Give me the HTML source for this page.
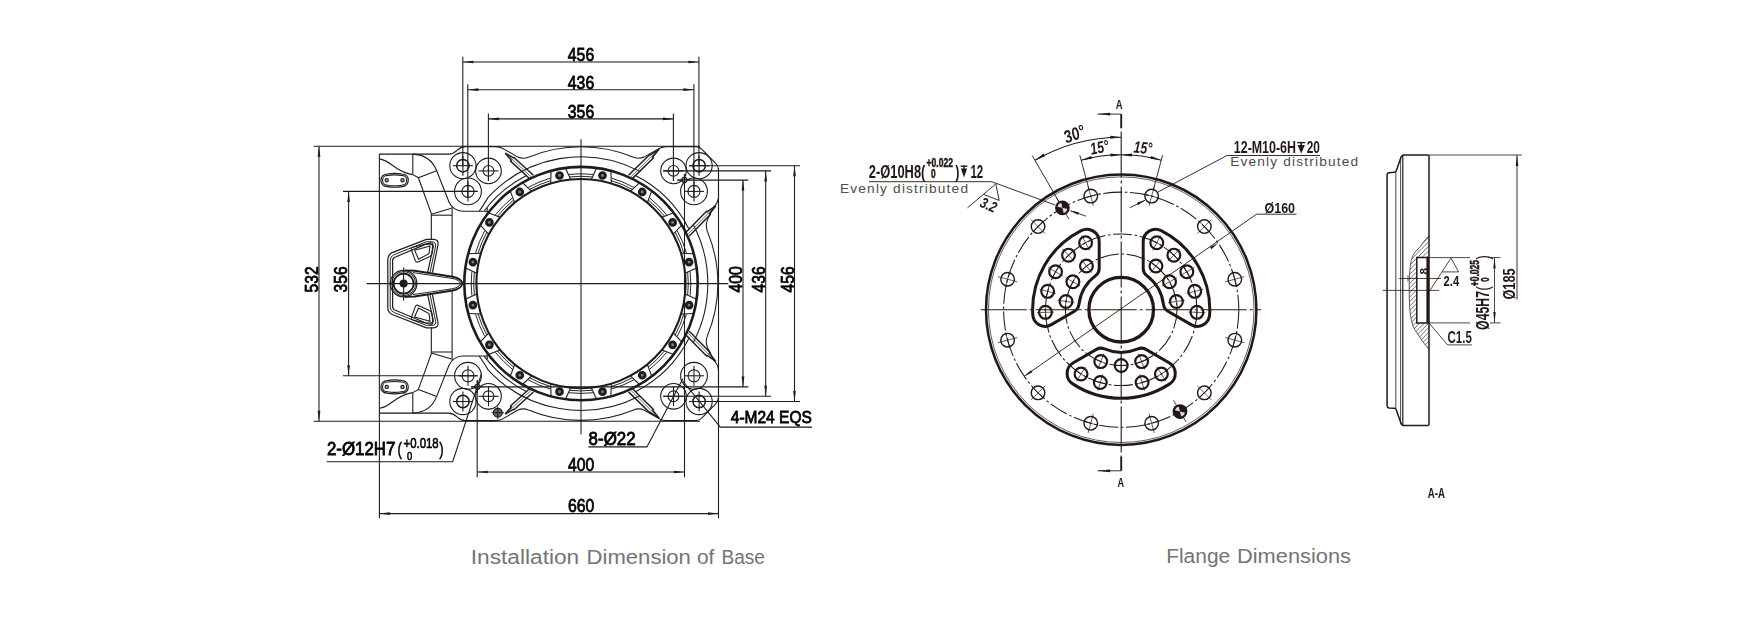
<!DOCTYPE html>
<html lang="en"><head><meta charset="utf-8"><title>Dimensions</title>
<style>
html,body{margin:0;padding:0;background:#fff;}
body{width:1756px;height:636px;overflow:hidden;position:relative;font-family:"Liberation Sans",sans-serif;}
svg{position:absolute;left:0;top:0;display:block;}
.cap{position:absolute;white-space:nowrap;color:#7a7a7a;font-size:19.4px;line-height:1;}
</style></head><body>
<svg width="1756" height="636" viewBox="0 0 1756 636">
<defs><filter id="soft" x="0" y="0" width="1756" height="636" filterUnits="userSpaceOnUse"><feGaussianBlur stdDeviation="0.42"/></filter></defs>
<g id="base" fill="none" stroke-linecap="butt" filter="url(#soft)">
<line x1="462.8" y1="56.7" x2="462.8" y2="165.7" stroke="#1c1c1c" stroke-width="1.08" />
<line x1="698.9" y1="56.7" x2="698.9" y2="165.7" stroke="#1c1c1c" stroke-width="1.08" />
<line x1="462.8" y1="62" x2="698.9" y2="62" stroke="#1c1c1c" stroke-width="1.08" />
<polygon points="462.8,62 473.3,60.65 473.3,63.35" fill="#1c1c1c"/>
<polygon points="698.9,62 688.4,63.35 688.4,60.65" fill="#1c1c1c"/>
<line x1="467.8" y1="84.2" x2="467.8" y2="197" stroke="#1c1c1c" stroke-width="1.08" />
<line x1="693.9" y1="84.2" x2="693.9" y2="197" stroke="#1c1c1c" stroke-width="1.08" />
<line x1="467.8" y1="89.7" x2="693.9" y2="89.7" stroke="#1c1c1c" stroke-width="1.08" />
<polygon points="467.8,89.7 478.3,88.35 478.3,91.05" fill="#1c1c1c"/>
<polygon points="693.9,89.7 683.4,91.05 683.4,88.35" fill="#1c1c1c"/>
<line x1="488.4" y1="113.4" x2="488.4" y2="181" stroke="#1c1c1c" stroke-width="1.08" />
<line x1="673.4" y1="113.4" x2="673.4" y2="181" stroke="#1c1c1c" stroke-width="1.08" />
<line x1="488.4" y1="118.9" x2="673.4" y2="118.9" stroke="#1c1c1c" stroke-width="1.08" />
<polygon points="488.4,118.9 498.9,117.55 498.9,120.25" fill="#1c1c1c"/>
<polygon points="673.4,118.9 662.9,120.25 662.9,117.55" fill="#1c1c1c"/>
<line x1="581" y1="139.3" x2="581" y2="434.6" stroke="#1c1c1c" stroke-width="1.08" />
<line x1="366.6" y1="283.6" x2="728.3" y2="283.6" stroke="#1c1c1c" stroke-width="1.08" />
<line x1="313.6" y1="146.3" x2="700" y2="146.3" stroke="#1c1c1c" stroke-width="1.08" />
<line x1="313.6" y1="421.3" x2="700" y2="421.3" stroke="#1c1c1c" stroke-width="1.08" />
<line x1="319" y1="146.3" x2="319" y2="421.3" stroke="#1c1c1c" stroke-width="1.08" />
<polygon points="319,146.3 320.35,156.8 317.65,156.8" fill="#1c1c1c"/>
<polygon points="319,421.3 317.65,410.8 320.35,410.8" fill="#1c1c1c"/>
<line x1="343" y1="191.4" x2="477" y2="191.4" stroke="#1c1c1c" stroke-width="1.08" />
<line x1="343" y1="375.8" x2="477" y2="375.8" stroke="#1c1c1c" stroke-width="1.08" />
<line x1="348.6" y1="191.4" x2="348.6" y2="375.8" stroke="#1c1c1c" stroke-width="1.08" />
<polygon points="348.6,191.4 349.95,201.9 347.25,201.9" fill="#1c1c1c"/>
<polygon points="348.6,375.8 347.25,365.3 349.95,365.3" fill="#1c1c1c"/>
<line x1="677" y1="180.1" x2="748.3" y2="180.1" stroke="#1c1c1c" stroke-width="1.08" />
<line x1="471" y1="386.9" x2="748.3" y2="386.9" stroke="#1c1c1c" stroke-width="1.08" />
<line x1="743" y1="180.1" x2="743" y2="386.9" stroke="#1c1c1c" stroke-width="1.08" />
<polygon points="743,180.1 744.35,190.6 741.65,190.6" fill="#1c1c1c"/>
<polygon points="743,386.9 741.65,376.4 744.35,376.4" fill="#1c1c1c"/>
<line x1="663" y1="170.9" x2="771" y2="170.9" stroke="#1c1c1c" stroke-width="1.08" />
<line x1="663" y1="396.3" x2="771" y2="396.3" stroke="#1c1c1c" stroke-width="1.08" />
<line x1="765.7" y1="170.9" x2="765.7" y2="396.3" stroke="#1c1c1c" stroke-width="1.08" />
<polygon points="765.7,170.9 767.05,181.4 764.35,181.4" fill="#1c1c1c"/>
<polygon points="765.7,396.3 764.35,385.8 767.05,385.8" fill="#1c1c1c"/>
<line x1="689" y1="165.7" x2="800" y2="165.7" stroke="#1c1c1c" stroke-width="1.08" />
<line x1="689" y1="401.5" x2="800" y2="401.5" stroke="#1c1c1c" stroke-width="1.08" />
<line x1="794.5" y1="165.7" x2="794.5" y2="401.5" stroke="#1c1c1c" stroke-width="1.08" />
<polygon points="794.5,165.7 795.85,176.2 793.15,176.2" fill="#1c1c1c"/>
<polygon points="794.5,401.5 793.15,391 795.85,391" fill="#1c1c1c"/>
<line x1="477.2" y1="380" x2="477.2" y2="477.2" stroke="#1c1c1c" stroke-width="1.08" />
<line x1="684.5" y1="174" x2="684.5" y2="477.2" stroke="#1c1c1c" stroke-width="1.08" />
<line x1="477.2" y1="472" x2="684.5" y2="472" stroke="#1c1c1c" stroke-width="1.08" />
<polygon points="477.2,472 487.7,470.65 487.7,473.35" fill="#1c1c1c"/>
<polygon points="684.5,472 674,473.35 674,470.65" fill="#1c1c1c"/>
<line x1="379.4" y1="413" x2="379.4" y2="518.3" stroke="#1c1c1c" stroke-width="1.08" />
<line x1="718.5" y1="400" x2="718.5" y2="518.3" stroke="#1c1c1c" stroke-width="1.08" />
<line x1="379.4" y1="513.6" x2="718.5" y2="513.6" stroke="#1c1c1c" stroke-width="1.08" />
<polygon points="379.4,513.6 389.9,512.25 389.9,514.95" fill="#1c1c1c"/>
<polygon points="718.5,513.6 708,514.95 708,512.25" fill="#1c1c1c"/>
<circle cx="581" cy="283.6" r="116.7" stroke="#1c1c1c" stroke-width="2.6" fill="none" />
<circle cx="581" cy="283.6" r="104.6" stroke="#1c1c1c" stroke-width="2.1" fill="none" />
<line x1="596.54" y1="167.94" x2="591.3" y2="179.51" stroke="#1c1c1c" stroke-width="1.08" />
<line x1="610.91" y1="170.8" x2="611.32" y2="183.49" stroke="#1c1c1c" stroke-width="1.08" />
<circle cx="602.5" cy="175.52" r="2.9" stroke="#1c1c1c" stroke-width="2.9" fill="#808080" />
<path d="M611.73,178.19 A109.8,109.8 0 0 1 633.81,187.34" stroke="#1c1c1c" stroke-width="0.96" fill="none" />
<path d="M611.03,180.59 A107.3,107.3 0 0 1 632.61,189.53" stroke="#1c1c1c" stroke-width="0.96" fill="none" />
<line x1="639.61" y1="182.69" x2="630.35" y2="191.37" stroke="#1c1c1c" stroke-width="1.08" />
<line x1="651.8" y1="190.83" x2="647.32" y2="202.71" stroke="#1c1c1c" stroke-width="1.08" />
<circle cx="642.22" cy="191.97" r="2.9" stroke="#1c1c1c" stroke-width="2.9" fill="#808080" />
<path d="M649.73,197.97 A109.8,109.8 0 0 1 666.63,214.87" stroke="#1c1c1c" stroke-width="0.96" fill="none" />
<path d="M648.16,199.92 A107.3,107.3 0 0 1 664.68,216.44" stroke="#1c1c1c" stroke-width="0.96" fill="none" />
<line x1="673.77" y1="212.8" x2="661.89" y2="217.28" stroke="#1c1c1c" stroke-width="1.08" />
<line x1="681.91" y1="224.99" x2="673.23" y2="234.25" stroke="#1c1c1c" stroke-width="1.08" />
<circle cx="672.63" cy="222.38" r="2.9" stroke="#1c1c1c" stroke-width="2.9" fill="#808080" />
<path d="M677.26,230.79 A109.8,109.8 0 0 1 686.41,252.87" stroke="#1c1c1c" stroke-width="0.96" fill="none" />
<path d="M675.07,231.99 A107.3,107.3 0 0 1 684.01,253.57" stroke="#1c1c1c" stroke-width="0.96" fill="none" />
<line x1="693.8" y1="253.69" x2="681.11" y2="253.28" stroke="#1c1c1c" stroke-width="1.08" />
<line x1="696.66" y1="268.06" x2="685.09" y2="273.3" stroke="#1c1c1c" stroke-width="1.08" />
<circle cx="689.08" cy="262.1" r="2.9" stroke="#1c1c1c" stroke-width="2.9" fill="#808080" />
<path d="M690.15,271.65 A109.8,109.8 0 0 1 690.15,295.55" stroke="#1c1c1c" stroke-width="0.96" fill="none" />
<path d="M687.66,271.92 A107.3,107.3 0 0 1 687.66,295.28" stroke="#1c1c1c" stroke-width="0.96" fill="none" />
<line x1="696.66" y1="299.14" x2="685.09" y2="293.9" stroke="#1c1c1c" stroke-width="1.08" />
<line x1="693.8" y1="313.51" x2="681.11" y2="313.92" stroke="#1c1c1c" stroke-width="1.08" />
<circle cx="689.08" cy="305.1" r="2.9" stroke="#1c1c1c" stroke-width="2.9" fill="#808080" />
<path d="M686.41,314.33 A109.8,109.8 0 0 1 677.26,336.41" stroke="#1c1c1c" stroke-width="0.96" fill="none" />
<path d="M684.01,313.63 A107.3,107.3 0 0 1 675.07,335.21" stroke="#1c1c1c" stroke-width="0.96" fill="none" />
<line x1="681.91" y1="342.21" x2="673.23" y2="332.95" stroke="#1c1c1c" stroke-width="1.08" />
<line x1="673.77" y1="354.4" x2="661.89" y2="349.92" stroke="#1c1c1c" stroke-width="1.08" />
<circle cx="672.63" cy="344.82" r="2.9" stroke="#1c1c1c" stroke-width="2.9" fill="#808080" />
<path d="M666.63,352.33 A109.8,109.8 0 0 1 649.73,369.23" stroke="#1c1c1c" stroke-width="0.96" fill="none" />
<path d="M664.68,350.76 A107.3,107.3 0 0 1 648.16,367.28" stroke="#1c1c1c" stroke-width="0.96" fill="none" />
<line x1="651.8" y1="376.37" x2="647.32" y2="364.49" stroke="#1c1c1c" stroke-width="1.08" />
<line x1="639.61" y1="384.51" x2="630.35" y2="375.83" stroke="#1c1c1c" stroke-width="1.08" />
<circle cx="642.22" cy="375.23" r="2.9" stroke="#1c1c1c" stroke-width="2.9" fill="#808080" />
<path d="M633.81,379.86 A109.8,109.8 0 0 1 611.73,389.01" stroke="#1c1c1c" stroke-width="0.96" fill="none" />
<path d="M632.61,377.67 A107.3,107.3 0 0 1 611.03,386.61" stroke="#1c1c1c" stroke-width="0.96" fill="none" />
<line x1="610.91" y1="396.4" x2="611.32" y2="383.71" stroke="#1c1c1c" stroke-width="1.08" />
<line x1="596.54" y1="399.26" x2="591.3" y2="387.69" stroke="#1c1c1c" stroke-width="1.08" />
<circle cx="602.5" cy="391.68" r="2.9" stroke="#1c1c1c" stroke-width="2.9" fill="#808080" />
<path d="M592.95,392.75 A109.8,109.8 0 0 1 569.05,392.75" stroke="#1c1c1c" stroke-width="0.96" fill="none" />
<path d="M592.68,390.26 A107.3,107.3 0 0 1 569.32,390.26" stroke="#1c1c1c" stroke-width="0.96" fill="none" />
<line x1="565.46" y1="399.26" x2="570.7" y2="387.69" stroke="#1c1c1c" stroke-width="1.08" />
<line x1="551.09" y1="396.4" x2="550.68" y2="383.71" stroke="#1c1c1c" stroke-width="1.08" />
<circle cx="559.5" cy="391.68" r="2.9" stroke="#1c1c1c" stroke-width="2.9" fill="#808080" />
<path d="M550.27,389.01 A109.8,109.8 0 0 1 528.19,379.86" stroke="#1c1c1c" stroke-width="0.96" fill="none" />
<path d="M550.97,386.61 A107.3,107.3 0 0 1 529.39,377.67" stroke="#1c1c1c" stroke-width="0.96" fill="none" />
<line x1="522.39" y1="384.51" x2="531.65" y2="375.83" stroke="#1c1c1c" stroke-width="1.08" />
<line x1="510.2" y1="376.37" x2="514.68" y2="364.49" stroke="#1c1c1c" stroke-width="1.08" />
<circle cx="519.78" cy="375.23" r="2.9" stroke="#1c1c1c" stroke-width="2.9" fill="#808080" />
<path d="M512.27,369.23 A109.8,109.8 0 0 1 495.37,352.33" stroke="#1c1c1c" stroke-width="0.96" fill="none" />
<path d="M513.84,367.28 A107.3,107.3 0 0 1 497.32,350.76" stroke="#1c1c1c" stroke-width="0.96" fill="none" />
<line x1="488.23" y1="354.4" x2="500.11" y2="349.92" stroke="#1c1c1c" stroke-width="1.08" />
<line x1="480.09" y1="342.21" x2="488.77" y2="332.95" stroke="#1c1c1c" stroke-width="1.08" />
<circle cx="489.37" cy="344.82" r="2.9" stroke="#1c1c1c" stroke-width="2.9" fill="#808080" />
<path d="M484.74,336.41 A109.8,109.8 0 0 1 475.59,314.33" stroke="#1c1c1c" stroke-width="0.96" fill="none" />
<path d="M486.93,335.21 A107.3,107.3 0 0 1 477.99,313.63" stroke="#1c1c1c" stroke-width="0.96" fill="none" />
<line x1="468.2" y1="313.51" x2="480.89" y2="313.92" stroke="#1c1c1c" stroke-width="1.08" />
<line x1="465.34" y1="299.14" x2="476.91" y2="293.9" stroke="#1c1c1c" stroke-width="1.08" />
<circle cx="472.92" cy="305.1" r="2.9" stroke="#1c1c1c" stroke-width="2.9" fill="#808080" />
<path d="M471.85,295.55 A109.8,109.8 0 0 1 471.85,271.65" stroke="#1c1c1c" stroke-width="0.96" fill="none" />
<path d="M474.34,295.28 A107.3,107.3 0 0 1 474.34,271.92" stroke="#1c1c1c" stroke-width="0.96" fill="none" />
<line x1="465.34" y1="268.06" x2="476.91" y2="273.3" stroke="#1c1c1c" stroke-width="1.08" />
<line x1="468.2" y1="253.69" x2="480.89" y2="253.28" stroke="#1c1c1c" stroke-width="1.08" />
<circle cx="472.92" cy="262.1" r="2.9" stroke="#1c1c1c" stroke-width="2.9" fill="#808080" />
<path d="M475.59,252.87 A109.8,109.8 0 0 1 484.74,230.79" stroke="#1c1c1c" stroke-width="0.96" fill="none" />
<path d="M477.99,253.57 A107.3,107.3 0 0 1 486.93,231.99" stroke="#1c1c1c" stroke-width="0.96" fill="none" />
<line x1="480.09" y1="224.99" x2="488.77" y2="234.25" stroke="#1c1c1c" stroke-width="1.08" />
<line x1="488.23" y1="212.8" x2="500.11" y2="217.28" stroke="#1c1c1c" stroke-width="1.08" />
<circle cx="489.37" cy="222.38" r="2.9" stroke="#1c1c1c" stroke-width="2.9" fill="#808080" />
<path d="M495.37,214.87 A109.8,109.8 0 0 1 512.27,197.97" stroke="#1c1c1c" stroke-width="0.96" fill="none" />
<path d="M497.32,216.44 A107.3,107.3 0 0 1 513.84,199.92" stroke="#1c1c1c" stroke-width="0.96" fill="none" />
<line x1="510.2" y1="190.83" x2="514.68" y2="202.71" stroke="#1c1c1c" stroke-width="1.08" />
<line x1="522.39" y1="182.69" x2="531.65" y2="191.37" stroke="#1c1c1c" stroke-width="1.08" />
<circle cx="519.78" cy="191.97" r="2.9" stroke="#1c1c1c" stroke-width="2.9" fill="#808080" />
<path d="M528.19,187.34 A109.8,109.8 0 0 1 550.27,178.19" stroke="#1c1c1c" stroke-width="0.96" fill="none" />
<path d="M529.39,189.53 A107.3,107.3 0 0 1 550.97,180.59" stroke="#1c1c1c" stroke-width="0.96" fill="none" />
<line x1="551.09" y1="170.8" x2="550.68" y2="183.49" stroke="#1c1c1c" stroke-width="1.08" />
<line x1="565.46" y1="167.94" x2="570.7" y2="179.51" stroke="#1c1c1c" stroke-width="1.08" />
<circle cx="559.5" cy="175.52" r="2.9" stroke="#1c1c1c" stroke-width="2.9" fill="#808080" />
<path d="M569.05,174.45 A109.8,109.8 0 0 1 592.95,174.45" stroke="#1c1c1c" stroke-width="0.96" fill="none" />
<path d="M569.32,176.94 A107.3,107.3 0 0 1 592.68,176.94" stroke="#1c1c1c" stroke-width="0.96" fill="none" />
<circle cx="462.9" cy="165.7" r="13.1" stroke="#1c1c1c" stroke-width="1.08" fill="none" />
<circle cx="462.9" cy="165.7" r="6.2" stroke="#1c1c1c" stroke-width="1.5" fill="none" />
<line x1="452.9" y1="165.7" x2="472.9" y2="165.7" stroke="#1c1c1c" stroke-width="1.08" />
<line x1="462.9" y1="155.7" x2="462.9" y2="175.7" stroke="#1c1c1c" stroke-width="1.08" />
<circle cx="488.5" cy="170.9" r="12.8" stroke="#1c1c1c" stroke-width="1.08" fill="none" />
<circle cx="488.5" cy="170.9" r="5.4" stroke="#1c1c1c" stroke-width="1.08" fill="none" />
<line x1="478.5" y1="170.9" x2="498.5" y2="170.9" stroke="#1c1c1c" stroke-width="1.08" />
<line x1="488.5" y1="160.9" x2="488.5" y2="180.9" stroke="#1c1c1c" stroke-width="1.08" />
<circle cx="468" cy="191.4" r="13.4" stroke="#1c1c1c" stroke-width="1.08" fill="none" />
<circle cx="468" cy="191.4" r="6" stroke="#1c1c1c" stroke-width="1.08" fill="none" />
<line x1="458" y1="191.4" x2="478" y2="191.4" stroke="#1c1c1c" stroke-width="1.08" />
<line x1="468" y1="181.4" x2="468" y2="201.4" stroke="#1c1c1c" stroke-width="1.08" />
<circle cx="462.9" cy="401.5" r="13.1" stroke="#1c1c1c" stroke-width="1.08" fill="none" />
<circle cx="462.9" cy="401.5" r="6.2" stroke="#1c1c1c" stroke-width="1.5" fill="none" />
<line x1="452.9" y1="401.5" x2="472.9" y2="401.5" stroke="#1c1c1c" stroke-width="1.08" />
<line x1="462.9" y1="391.5" x2="462.9" y2="411.5" stroke="#1c1c1c" stroke-width="1.08" />
<circle cx="488.5" cy="396.3" r="12.8" stroke="#1c1c1c" stroke-width="1.08" fill="none" />
<circle cx="488.5" cy="396.3" r="5.4" stroke="#1c1c1c" stroke-width="1.08" fill="none" />
<line x1="478.5" y1="396.3" x2="498.5" y2="396.3" stroke="#1c1c1c" stroke-width="1.08" />
<line x1="488.5" y1="386.3" x2="488.5" y2="406.3" stroke="#1c1c1c" stroke-width="1.08" />
<circle cx="468" cy="375.8" r="13.4" stroke="#1c1c1c" stroke-width="1.08" fill="none" />
<circle cx="468" cy="375.8" r="6" stroke="#1c1c1c" stroke-width="1.08" fill="none" />
<line x1="458" y1="375.8" x2="478" y2="375.8" stroke="#1c1c1c" stroke-width="1.08" />
<line x1="468" y1="365.8" x2="468" y2="385.8" stroke="#1c1c1c" stroke-width="1.08" />
<circle cx="699.1" cy="165.7" r="13.1" stroke="#1c1c1c" stroke-width="1.08" fill="none" />
<circle cx="699.1" cy="165.7" r="6.2" stroke="#1c1c1c" stroke-width="1.5" fill="none" />
<line x1="689.1" y1="165.7" x2="709.1" y2="165.7" stroke="#1c1c1c" stroke-width="1.08" />
<line x1="699.1" y1="155.7" x2="699.1" y2="175.7" stroke="#1c1c1c" stroke-width="1.08" />
<circle cx="673.5" cy="170.9" r="12.8" stroke="#1c1c1c" stroke-width="1.08" fill="none" />
<circle cx="673.5" cy="170.9" r="5.4" stroke="#1c1c1c" stroke-width="1.08" fill="none" />
<line x1="663.5" y1="170.9" x2="683.5" y2="170.9" stroke="#1c1c1c" stroke-width="1.08" />
<line x1="673.5" y1="160.9" x2="673.5" y2="180.9" stroke="#1c1c1c" stroke-width="1.08" />
<circle cx="694" cy="191.4" r="13.4" stroke="#1c1c1c" stroke-width="1.08" fill="none" />
<circle cx="694" cy="191.4" r="6" stroke="#1c1c1c" stroke-width="1.08" fill="none" />
<line x1="684" y1="191.4" x2="704" y2="191.4" stroke="#1c1c1c" stroke-width="1.08" />
<line x1="694" y1="181.4" x2="694" y2="201.4" stroke="#1c1c1c" stroke-width="1.08" />
<circle cx="699.1" cy="401.5" r="13.1" stroke="#1c1c1c" stroke-width="1.08" fill="none" />
<circle cx="699.1" cy="401.5" r="6.2" stroke="#1c1c1c" stroke-width="1.5" fill="none" />
<line x1="689.1" y1="401.5" x2="709.1" y2="401.5" stroke="#1c1c1c" stroke-width="1.08" />
<line x1="699.1" y1="391.5" x2="699.1" y2="411.5" stroke="#1c1c1c" stroke-width="1.08" />
<circle cx="673.5" cy="396.3" r="12.8" stroke="#1c1c1c" stroke-width="1.08" fill="none" />
<circle cx="673.5" cy="396.3" r="5.4" stroke="#1c1c1c" stroke-width="1.08" fill="none" />
<line x1="663.5" y1="396.3" x2="683.5" y2="396.3" stroke="#1c1c1c" stroke-width="1.08" />
<line x1="673.5" y1="386.3" x2="673.5" y2="406.3" stroke="#1c1c1c" stroke-width="1.08" />
<circle cx="694" cy="375.8" r="13.4" stroke="#1c1c1c" stroke-width="1.08" fill="none" />
<circle cx="694" cy="375.8" r="6" stroke="#1c1c1c" stroke-width="1.08" fill="none" />
<line x1="684" y1="375.8" x2="704" y2="375.8" stroke="#1c1c1c" stroke-width="1.08" />
<line x1="694" y1="365.8" x2="694" y2="385.8" stroke="#1c1c1c" stroke-width="1.08" />
<circle cx="684.4" cy="180" r="2.6" stroke="#1c1c1c" stroke-width="1.08" fill="#999" />
<line x1="678.4" y1="180" x2="690.4" y2="180" stroke="#1c1c1c" stroke-width="1.08" />
<line x1="684.4" y1="174" x2="684.4" y2="186" stroke="#1c1c1c" stroke-width="1.08" />
<circle cx="477.4" cy="386.8" r="2.6" stroke="#1c1c1c" stroke-width="1.08" fill="#999" />
<line x1="471.4" y1="386.8" x2="483.4" y2="386.8" stroke="#1c1c1c" stroke-width="1.08" />
<line x1="477.4" y1="380.8" x2="477.4" y2="392.8" stroke="#1c1c1c" stroke-width="1.08" />
<circle cx="497.8" cy="412.7" r="4.4" stroke="#1c1c1c" stroke-width="1.2" fill="#666" />
<line x1="491.5" y1="412.7" x2="504" y2="412.7" stroke="#1c1c1c" stroke-width="0.96" />
<line x1="497.8" y1="406.5" x2="497.8" y2="419" stroke="#1c1c1c" stroke-width="0.96" />
<path d="M528.5,157.3 A136.8,136.8 0 0 1 633.5,157.3" stroke="#1c1c1c" stroke-width="1.08" fill="none" />
<path d="M528.5,409.9 A136.8,136.8 0 0 0 633.5,409.9" stroke="#1c1c1c" stroke-width="1.08" fill="none" />
<path d="M707.3,231.1 A135.8,135.8 0 0 1 707.3,336.1" stroke="#1c1c1c" stroke-width="1.08" fill="none" />
<path d="M488.26,197.12 A126.8,126.8 0 0 1 639.55,171.13" stroke="#1c1c1c" stroke-width="1.08" fill="none" />
<path d="M693.47,225.05 A126.8,126.8 0 0 1 693.47,342.15" stroke="#1c1c1c" stroke-width="1.08" fill="none" />
<path d="M639.55,396.07 A126.8,126.8 0 0 1 488.26,370.08" stroke="#1c1c1c" stroke-width="1.08" fill="none" />
<path d="M635.93,175.79 A121.0,121.0 0 0 1 688.81,228.67" stroke="#1c1c1c" stroke-width="1.08" fill="none" />
<path d="M688.81,338.53 A121.0,121.0 0 0 1 635.93,391.41" stroke="#1c1c1c" stroke-width="1.08" fill="none" />
<path d="M484.37,210.78 A121.0,121.0 0 0 1 526.07,175.79" stroke="#1c1c1c" stroke-width="1.08" fill="none" />
<path d="M526.07,391.41 A121.0,121.0 0 0 1 484.37,356.42" stroke="#1c1c1c" stroke-width="1.08" fill="none" />
<path d="M488.3,197.1 Q483.2,205.5 479.2,211.2" stroke="#1c1c1c" stroke-width="1.08" fill="none" />
<line x1="487.2" y1="208" x2="487.2" y2="213.4" stroke="#1c1c1c" stroke-width="1.08" />
<path d="M488.3,370.1 Q483.2,361.7 479.2,356" stroke="#1c1c1c" stroke-width="1.08" fill="none" />
<line x1="487.2" y1="359.2" x2="487.2" y2="353.8" stroke="#1c1c1c" stroke-width="1.08" />
<path d="M633.5,157.3 C637,158.6 640,159 644,157.1 L658,149.1 Q661.5,146.7 666,146.6 L696,146.6 Q699.5,146.6 702,149.3 L715.7,163.3 Q718.5,166.1 718.5,170.1 L718.5,198.6" stroke="#1c1c1c" stroke-width="1.08" fill="none" />
<path d="M718.5,197.6 Q717.5,203.6 714,206.6 L707.5,219.6 C705.6,224.6 706,227.6 707.3,231.1" stroke="#1c1c1c" stroke-width="1.08" fill="none" />
<path d="M528.5,157.3 C525,158.6 522,159 518,157.1 L504,149.1 Q500.5,146.7 496,146.6 L465,146.6 C457,146.6 457,154.1 449,154.1 L379.4,154.1" stroke="#1c1c1c" stroke-width="1.08" fill="none" />
<path d="M633.5,409.9 C637,408.6 640,408.2 644,410.1 L658,418.1 Q661.5,420.5 666,420.6 L696,420.6 Q699.5,420.6 702,417.9 L715.7,403.9 Q718.5,401.1 718.5,397.1 L718.5,368.6" stroke="#1c1c1c" stroke-width="1.08" fill="none" />
<path d="M718.5,369.6 Q717.5,363.6 714,360.6 L707.5,347.6 C705.6,342.6 706,339.6 707.3,336.1" stroke="#1c1c1c" stroke-width="1.08" fill="none" />
<path d="M528.5,409.9 C525,408.6 522,408.2 518,410.1 L504,418.1 Q500.5,420.5 496,420.6 L465,420.6 C457,420.6 457,413.1 449,413.1 L379.4,413.1" stroke="#1c1c1c" stroke-width="1.08" fill="none" />
<line x1="718.5" y1="168" x2="718.5" y2="400" stroke="#1c1c1c" stroke-width="1.08" />
<path d="M530.01,388.26 L510.55,406.09 L511.31,406.92 L505.23,414.02 L513.5,409.32 L513.93,409.78 L533.39,391.94" stroke="#1c1c1c" stroke-width="1.45" fill="none" />
<path d="M531.53,389.92 L507.5,412.27" stroke="#444" stroke-width="0.8" fill="none" />
<path d="M530.01,178.94 L510.55,161.11 L511.31,160.28 L505.23,153.18 L513.5,157.88 L513.93,157.42 L533.39,175.26" stroke="#1c1c1c" stroke-width="1.45" fill="none" />
<path d="M531.53,177.28 L507.5,154.93" stroke="#444" stroke-width="0.8" fill="none" />
<path d="M632.05,388.32 L653.29,409.18 L652.5,409.99 L659.18,418.12 L650.22,412.31 L649.79,412.75 L628.55,391.88" stroke="#1c1c1c" stroke-width="1.45" fill="none" />
<path d="M630.48,389.92 L656.7,416.04" stroke="#444" stroke-width="0.8" fill="none" />
<path d="M689.28,331.15 L710.15,352.39 L709.35,353.17 L715.88,361.42 L707.03,355.45 L706.58,355.89 L685.72,334.65" stroke="#1c1c1c" stroke-width="1.45" fill="none" />
<path d="M687.68,332.72 L713.44,359.3" stroke="#444" stroke-width="0.8" fill="none" />
<path d="M632.05,178.88 L653.29,158.02 L652.5,157.21 L659.18,149.08 L650.22,154.89 L649.79,154.45 L628.55,175.32" stroke="#1c1c1c" stroke-width="1.45" fill="none" />
<path d="M630.48,177.28 L656.7,151.16" stroke="#444" stroke-width="0.8" fill="none" />
<path d="M689.28,236.05 L710.15,214.81 L709.35,214.03 L715.88,205.78 L707.03,211.75 L706.58,211.31 L685.72,232.55" stroke="#1c1c1c" stroke-width="1.45" fill="none" />
<path d="M687.68,234.48 L713.44,207.9" stroke="#444" stroke-width="0.8" fill="none" />
<line x1="379.4" y1="154.1" x2="379.4" y2="283.6" stroke="#1c1c1c" stroke-width="1.08" />
<path d="M379.4,158.9 C387,160 392,165.5 397,168.5 S408,174 412.8,174.6" stroke="#1c1c1c" stroke-width="1.08" fill="none" />
<line x1="412.8" y1="154.1" x2="412.8" y2="174.6" stroke="#1c1c1c" stroke-width="1.08" />
<path d="M412.8,154.1 C425,154.6 432.5,160 436.7,170.8 L448.9,201.7 A15,15 0 0 0 462.9,211.2 L487.2,211.2" stroke="#1c1c1c" stroke-width="1.08" fill="none" />
<line x1="452.1" y1="206.8" x2="452.1" y2="276" stroke="#1c1c1c" stroke-width="1.08" />
<path d="M412.8,174.6 L418.4,177.7 L431.3,213.5 L431.3,239.8" stroke="#1c1c1c" stroke-width="1.08" fill="none" />
<line x1="418.4" y1="177.7" x2="436.7" y2="170.8" stroke="#1c1c1c" stroke-width="1.08" />
<line x1="431.3" y1="214.2" x2="451.5" y2="208.3" stroke="#1c1c1c" stroke-width="1.08" />
<line x1="431.3" y1="215.2" x2="452.1" y2="215.2" stroke="#1c1c1c" stroke-width="1.08" />
<path d="M387.3,174 Q394.6,172.7 401.9,174 C410.41,174 410.41,186.6 401.9,186.6 Q394.6,187.9 387.3,186.6 C378.8,186.6 378.8,174 387.3,174 Z" stroke="#1c1c1c" stroke-width="1.2" fill="none" />
<path d="M387.5,175.4 Q394.6,174.3 401.7,175.4 C408.31,175.4 408.31,185.2 401.7,185.2 Q394.6,186.3 387.5,185.2 C380.89,185.2 380.89,175.4 387.5,175.4 Z" stroke="#1c1c1c" stroke-width="1.08" fill="none" />
<circle cx="386.7" cy="180.3" r="1.6" stroke="#1c1c1c" stroke-width="1.2" fill="#bbb" />
<circle cx="402.5" cy="180.3" r="1.6" stroke="#1c1c1c" stroke-width="1.2" fill="#bbb" />
<path d="M387.8,283.6 L387.8,260 Q387.8,254.4 392.8,252.4 L426.4,239.4 L433.6,239.4 Q438.6,239.4 438,244.8 L432.4,272.6" stroke="#1c1c1c" stroke-width="1.2" fill="none" />
<path d="M390.2,283.6 L390.2,260.36 Q390.2,256.08 394.12,254.68 L426.16,241.8 L431.8,241.8 Q436.2,241.8 435.6,246 L430,272.6" stroke="#1c1c1c" stroke-width="0.96" fill="none" />
<path d="M392.6,283.6 L392.6,260.72 Q392.6,257.76 395.44,256.96 L425.92,244.2 L430,244.2 Q433.8,244.2 433.2,247.2 L427.6,272.6" stroke="#1c1c1c" stroke-width="1.2" fill="none" />
<path d="M413,247.2 L430.6,242.9 Q433,242.3 432.8,244.8 L431.9,253.8 Q431.7,255.7 429.9,256.5 L418.4,261.8 Q416.2,262.8 415.3,260.6 L411.4,249.7 Q410.6,247.8 413,247.2 Z" stroke="#1c1c1c" stroke-width="1.1" fill="none" />
<path d="M414.6,250.2 L430,246 L429,253.7 L418.5,259.2 Z" stroke="#1c1c1c" stroke-width="1.08" fill="none" />
<path d="M405,270.4 L414.6,270.7 L452.7,276.7 Q461.6,278.6 462.4,283.6" stroke="#1c1c1c" stroke-width="1.9" fill="none" />
<path d="M413,272.6 L452,278.4 Q459.8,279.9 460.5,283.6" stroke="#1c1c1c" stroke-width="0.96" fill="none" />
<line x1="379.4" y1="413.1" x2="379.4" y2="283.6" stroke="#1c1c1c" stroke-width="1.08" />
<path d="M379.4,408.3 C387,407.2 392,401.7 397,398.7 S408,393.2 412.8,392.6" stroke="#1c1c1c" stroke-width="1.08" fill="none" />
<line x1="412.8" y1="413.1" x2="412.8" y2="392.6" stroke="#1c1c1c" stroke-width="1.08" />
<path d="M412.8,413.1 C425,412.6 432.5,407.2 436.7,396.4 L448.9,365.5 A15,15 0 0 1 462.9,356 L487.2,356" stroke="#1c1c1c" stroke-width="1.08" fill="none" />
<line x1="452.1" y1="360.4" x2="452.1" y2="291.2" stroke="#1c1c1c" stroke-width="1.08" />
<path d="M412.8,392.6 L418.4,389.5 L431.3,353.7 L431.3,327.4" stroke="#1c1c1c" stroke-width="1.08" fill="none" />
<line x1="418.4" y1="389.5" x2="436.7" y2="396.4" stroke="#1c1c1c" stroke-width="1.08" />
<line x1="431.3" y1="353" x2="451.5" y2="358.9" stroke="#1c1c1c" stroke-width="1.08" />
<line x1="431.3" y1="352" x2="452.1" y2="352" stroke="#1c1c1c" stroke-width="1.08" />
<path d="M387.3,393.2 Q394.6,394.5 401.9,393.2 C410.41,393.2 410.41,380.6 401.9,380.6 Q394.6,379.3 387.3,380.6 C378.8,380.6 378.8,393.2 387.3,393.2 Z" stroke="#1c1c1c" stroke-width="1.2" fill="none" />
<path d="M387.5,391.8 Q394.6,392.9 401.7,391.8 C408.31,391.8 408.31,382 401.7,382 Q394.6,380.9 387.5,382 C380.89,382 380.89,391.8 387.5,391.8 Z" stroke="#1c1c1c" stroke-width="1.08" fill="none" />
<circle cx="386.7" cy="386.9" r="1.6" stroke="#1c1c1c" stroke-width="1.2" fill="#bbb" />
<circle cx="402.5" cy="386.9" r="1.6" stroke="#1c1c1c" stroke-width="1.2" fill="#bbb" />
<path d="M387.8,283.6 L387.8,307.2 Q387.8,312.8 392.8,314.8 L426.4,327.8 L433.6,327.8 Q438.6,327.8 438,322.4 L432.4,294.6" stroke="#1c1c1c" stroke-width="1.2" fill="none" />
<path d="M390.2,283.6 L390.2,306.84 Q390.2,311.12 394.12,312.52 L426.16,325.4 L431.8,325.4 Q436.2,325.4 435.6,321.2 L430,294.6" stroke="#1c1c1c" stroke-width="0.96" fill="none" />
<path d="M392.6,283.6 L392.6,306.48 Q392.6,309.44 395.44,310.24 L425.92,323 L430,323 Q433.8,323 433.2,320 L427.6,294.6" stroke="#1c1c1c" stroke-width="1.2" fill="none" />
<path d="M413,320 L430.6,324.3 Q433,324.9 432.8,322.4 L431.9,313.4 Q431.7,311.5 429.9,310.7 L418.4,305.4 Q416.2,304.4 415.3,306.6 L411.4,317.5 Q410.6,319.4 413,320 Z" stroke="#1c1c1c" stroke-width="1.1" fill="none" />
<path d="M414.6,317 L430,321.2 L429,313.5 L418.5,308 Z" stroke="#1c1c1c" stroke-width="1.08" fill="none" />
<path d="M405,296.8 L414.6,296.5 L452.7,290.5 Q461.6,288.6 462.4,283.6" stroke="#1c1c1c" stroke-width="1.9" fill="none" />
<path d="M413,294.6 L452,288.8 Q459.8,287.3 460.5,283.6" stroke="#1c1c1c" stroke-width="0.96" fill="none" />
<circle cx="403.6" cy="283.6" r="13.3" stroke="#1c1c1c" stroke-width="1.2" fill="none" />
<circle cx="403.6" cy="283.6" r="12" stroke="#1c1c1c" stroke-width="0.96" fill="none" />
<circle cx="403.6" cy="283.6" r="10" stroke="#1c1c1c" stroke-width="1.7" fill="none" />
<circle cx="403.6" cy="283.6" r="4" stroke="#1c1c1c" stroke-width="0" fill="#1c1c1c" />
<line x1="403.6" y1="267.5" x2="403.6" y2="300.4" stroke="#1c1c1c" stroke-width="1.08" />
<path d="M326.7,461.7 H452.7 L481.4,374" stroke="#1c1c1c" stroke-width="1.08" fill="none" />
<path d="M588.4,446.9 H646.9 L682.8,378.8" stroke="#1c1c1c" stroke-width="1.08" fill="none" />
<path d="M812,427.1 H720.3 L682.8,381" stroke="#1c1c1c" stroke-width="1.08" fill="none" />
<text x="567.85" y="61.2" font-size="19.2" fill="#000" font-weight="normal" text-anchor="start" font-family="'Liberation Sans', sans-serif" textLength="26.3" lengthAdjust="spacingAndGlyphs" stroke="#000" stroke-width="0.8">456</text>
<text x="567.85" y="88.6" font-size="19.2" fill="#000" font-weight="normal" text-anchor="start" font-family="'Liberation Sans', sans-serif" textLength="26.3" lengthAdjust="spacingAndGlyphs" stroke="#000" stroke-width="0.8">436</text>
<text x="567.85" y="117.8" font-size="19.2" fill="#000" font-weight="normal" text-anchor="start" font-family="'Liberation Sans', sans-serif" textLength="26.3" lengthAdjust="spacingAndGlyphs" stroke="#000" stroke-width="0.8">356</text>
<text x="568.05" y="471" font-size="19.2" fill="#000" font-weight="normal" text-anchor="start" font-family="'Liberation Sans', sans-serif" textLength="26.3" lengthAdjust="spacingAndGlyphs" stroke="#000" stroke-width="0.8">400</text>
<text x="568.05" y="512.4" font-size="19.2" fill="#000" font-weight="normal" text-anchor="start" font-family="'Liberation Sans', sans-serif" textLength="26.3" lengthAdjust="spacingAndGlyphs" stroke="#000" stroke-width="0.8">660</text>
<text x="317.8" y="292.4" font-size="19.2" fill="#000" font-weight="normal" text-anchor="start" font-family="'Liberation Sans', sans-serif" textLength="26.2" lengthAdjust="spacingAndGlyphs" transform="rotate(-90 317.8 292.4)" stroke="#000" stroke-width="0.8">532</text>
<text x="347.4" y="292.4" font-size="19.2" fill="#000" font-weight="normal" text-anchor="start" font-family="'Liberation Sans', sans-serif" textLength="26.2" lengthAdjust="spacingAndGlyphs" transform="rotate(-90 347.4 292.4)" stroke="#000" stroke-width="0.8">356</text>
<text x="742.2" y="292.5" font-size="19.2" fill="#000" font-weight="normal" text-anchor="start" font-family="'Liberation Sans', sans-serif" textLength="26.2" lengthAdjust="spacingAndGlyphs" transform="rotate(-90 742.2 292.5)" stroke="#000" stroke-width="0.8">400</text>
<text x="764.6" y="292.5" font-size="19.2" fill="#000" font-weight="normal" text-anchor="start" font-family="'Liberation Sans', sans-serif" textLength="26.2" lengthAdjust="spacingAndGlyphs" transform="rotate(-90 764.6 292.5)" stroke="#000" stroke-width="0.8">436</text>
<text x="794" y="292.5" font-size="19.2" fill="#000" font-weight="normal" text-anchor="start" font-family="'Liberation Sans', sans-serif" textLength="26.2" lengthAdjust="spacingAndGlyphs" transform="rotate(-90 794 292.5)" stroke="#000" stroke-width="0.8">456</text>
<text x="588.6" y="444.6" font-size="17.8" fill="#000" font-weight="normal" text-anchor="start" font-family="'Liberation Sans', sans-serif" textLength="47" lengthAdjust="spacingAndGlyphs" stroke="#000" stroke-width="0.8">8-Ø22</text>
<text x="730.8" y="422.6" font-size="17.4" fill="#000" font-weight="normal" text-anchor="start" font-family="'Liberation Sans', sans-serif" textLength="81" lengthAdjust="spacingAndGlyphs" stroke="#000" stroke-width="0.8">4-M24 EQS</text>
<text x="327" y="455.1" font-size="18.2" fill="#000" font-weight="normal" text-anchor="start" font-family="'Liberation Sans', sans-serif" textLength="68.4" lengthAdjust="spacingAndGlyphs" stroke="#000" stroke-width="0.8">2-Ø12H7</text>
<text x="397.6" y="455.1" font-size="18.6" fill="#000" font-weight="normal" text-anchor="start" font-family="'Liberation Sans', sans-serif" textLength="4.4" lengthAdjust="spacingAndGlyphs" stroke="#000" stroke-width="0.5">(</text>
<text x="403.5" y="448.4" font-size="14.2" fill="#000" font-weight="normal" text-anchor="start" font-family="'Liberation Sans', sans-serif" textLength="35.2" lengthAdjust="spacingAndGlyphs" stroke="#000" stroke-width="0.6">+0.018</text>
<text x="406.9" y="459.8" font-size="11.8" fill="#000" font-weight="normal" text-anchor="start" font-family="'Liberation Sans', sans-serif" textLength="5.2" lengthAdjust="spacingAndGlyphs" stroke="#000" stroke-width="0.6">0</text>
<text x="439.3" y="455.1" font-size="18.6" fill="#000" font-weight="normal" text-anchor="start" font-family="'Liberation Sans', sans-serif" textLength="4.4" lengthAdjust="spacingAndGlyphs" stroke="#000" stroke-width="0.5">)</text>
</g>
<g id="flange" fill="none" filter="url(#soft)">
<circle cx="1121.2" cy="309.7" r="135.2" stroke="#231815" stroke-width="2.5" fill="none" />
<circle cx="1121.2" cy="309.7" r="132.8" stroke="#231815" stroke-width="0.7" fill="none" />
<circle cx="1121.2" cy="309.7" r="32.3" stroke="#231815" stroke-width="3.3" fill="none" />
<circle cx="1121.2" cy="309.7" r="117.6" stroke="#231815" stroke-width="1.05" fill="none" stroke-dasharray="19 2.6 2.6 2.6"/>
<circle cx="1121.2" cy="309.7" r="75.8" stroke="#231815" stroke-width="1.05" fill="none" stroke-dasharray="19 2.6 2.6 2.6"/>
<circle cx="1121.2" cy="309.7" r="55.8" stroke="#231815" stroke-width="1.05" fill="none" stroke-dasharray="19 2.6 2.6 2.6"/>
<line x1="1121.2" y1="131.4" x2="1121.2" y2="456.5" stroke="#231815" stroke-width="1.1" stroke-dasharray="46 3 3 3"/>
<line x1="980.7" y1="309.7" x2="1261" y2="309.7" stroke="#231815" stroke-width="1.1" stroke-dasharray="46 3 3 3"/>
<path d="M1081.2,230.64 A88.6,88.6 0 0 0 1032.74,314.59 A12.4,12.4 0 0 0 1051.32,324.64 L1074.48,311.27 A9.0,9.0 0 0 0 1078.91,304.56 A42.6,42.6 0 0 1 1095.61,275.64 A9.0,9.0 0 0 0 1099.2,268.45 L1099.2,241.71 A12.4,12.4 0 0 0 1081.2,230.64 Z" stroke="#231815" stroke-width="3.0" fill="none" />
<path d="M1209.66,314.59 A88.6,88.6 0 0 0 1161.2,230.64 A12.4,12.4 0 0 0 1143.2,241.71 L1143.2,268.45 A9.0,9.0 0 0 0 1146.79,275.64 A42.6,42.6 0 0 1 1163.49,304.56 A9.0,9.0 0 0 0 1167.92,311.27 L1191.08,324.64 A12.4,12.4 0 0 0 1209.66,314.59 Z" stroke="#231815" stroke-width="3.0" fill="none" />
<path d="M1072.73,383.87 A88.6,88.6 0 0 0 1169.67,383.87 A12.4,12.4 0 0 0 1169.08,362.75 L1145.92,349.38 A9.0,9.0 0 0 0 1137.9,348.89 A42.6,42.6 0 0 1 1104.5,348.89 A9.0,9.0 0 0 0 1096.48,349.38 L1073.32,362.75 A12.4,12.4 0 0 0 1072.73,383.87 Z" stroke="#231815" stroke-width="3.0" fill="none" />
<circle cx="1045.45" cy="312.35" r="6.4" stroke="#231815" stroke-width="2.2" fill="none" />
<line x1="1053.94" y1="312.05" x2="1036.95" y2="312.64" stroke="#231815" stroke-width="0.7" />
<line x1="1045.68" y1="319.14" x2="1045.21" y2="305.55" stroke="#231815" stroke-width="0.7" />
<circle cx="1047.65" cy="291.36" r="6.4" stroke="#231815" stroke-width="2.2" fill="none" />
<line x1="1055.9" y1="293.42" x2="1039.4" y2="289.31" stroke="#231815" stroke-width="0.7" />
<line x1="1046.01" y1="297.96" x2="1049.3" y2="284.76" stroke="#231815" stroke-width="0.7" />
<circle cx="1055.56" cy="271.8" r="6.4" stroke="#231815" stroke-width="2.2" fill="none" />
<line x1="1062.92" y1="276.05" x2="1048.19" y2="267.55" stroke="#231815" stroke-width="0.7" />
<line x1="1052.16" y1="277.69" x2="1058.96" y2="265.91" stroke="#231815" stroke-width="0.7" />
<circle cx="1068.54" cy="255.17" r="6.4" stroke="#231815" stroke-width="2.2" fill="none" />
<line x1="1074.45" y1="261.29" x2="1062.64" y2="249.06" stroke="#231815" stroke-width="0.7" />
<line x1="1063.65" y1="259.9" x2="1073.44" y2="250.45" stroke="#231815" stroke-width="0.7" />
<circle cx="1085.61" cy="242.77" r="6.4" stroke="#231815" stroke-width="2.2" fill="none" />
<line x1="1089.6" y1="250.28" x2="1081.62" y2="235.27" stroke="#231815" stroke-width="0.7" />
<line x1="1079.61" y1="245.96" x2="1091.62" y2="239.58" stroke="#231815" stroke-width="0.7" />
<circle cx="1066.01" cy="301.45" r="6.4" stroke="#231815" stroke-width="2.2" fill="none" />
<line x1="1074.42" y1="302.71" x2="1057.61" y2="300.2" stroke="#231815" stroke-width="0.7" />
<line x1="1065.01" y1="308.18" x2="1067.02" y2="294.73" stroke="#231815" stroke-width="0.7" />
<circle cx="1072.88" cy="281.8" r="6.4" stroke="#231815" stroke-width="2.2" fill="none" />
<line x1="1080.24" y1="286.05" x2="1065.51" y2="277.55" stroke="#231815" stroke-width="0.7" />
<line x1="1069.48" y1="287.69" x2="1076.28" y2="275.91" stroke="#231815" stroke-width="0.7" />
<circle cx="1086.46" cy="266.03" r="6.4" stroke="#231815" stroke-width="2.2" fill="none" />
<line x1="1091.76" y1="272.68" x2="1081.17" y2="259.38" stroke="#231815" stroke-width="0.7" />
<line x1="1081.14" y1="270.26" x2="1091.79" y2="261.8" stroke="#231815" stroke-width="0.7" />
<circle cx="1156.79" cy="242.77" r="6.4" stroke="#231815" stroke-width="2.2" fill="none" />
<line x1="1152.8" y1="250.28" x2="1160.78" y2="235.27" stroke="#231815" stroke-width="0.7" />
<line x1="1150.78" y1="239.58" x2="1162.79" y2="245.96" stroke="#231815" stroke-width="0.7" />
<circle cx="1173.86" cy="255.17" r="6.4" stroke="#231815" stroke-width="2.2" fill="none" />
<line x1="1167.95" y1="261.29" x2="1179.76" y2="249.06" stroke="#231815" stroke-width="0.7" />
<line x1="1168.96" y1="250.45" x2="1178.75" y2="259.9" stroke="#231815" stroke-width="0.7" />
<circle cx="1186.84" cy="271.8" r="6.4" stroke="#231815" stroke-width="2.2" fill="none" />
<line x1="1179.48" y1="276.05" x2="1194.21" y2="267.55" stroke="#231815" stroke-width="0.7" />
<line x1="1183.44" y1="265.91" x2="1190.24" y2="277.69" stroke="#231815" stroke-width="0.7" />
<circle cx="1194.75" cy="291.36" r="6.4" stroke="#231815" stroke-width="2.2" fill="none" />
<line x1="1186.5" y1="293.42" x2="1203" y2="289.31" stroke="#231815" stroke-width="0.7" />
<line x1="1193.1" y1="284.76" x2="1196.39" y2="297.96" stroke="#231815" stroke-width="0.7" />
<circle cx="1196.95" cy="312.35" r="6.4" stroke="#231815" stroke-width="2.2" fill="none" />
<line x1="1188.46" y1="312.05" x2="1205.45" y2="312.64" stroke="#231815" stroke-width="0.7" />
<line x1="1197.19" y1="305.55" x2="1196.72" y2="319.14" stroke="#231815" stroke-width="0.7" />
<circle cx="1155.94" cy="266.03" r="6.4" stroke="#231815" stroke-width="2.2" fill="none" />
<line x1="1150.64" y1="272.68" x2="1161.23" y2="259.38" stroke="#231815" stroke-width="0.7" />
<line x1="1150.61" y1="261.8" x2="1161.26" y2="270.26" stroke="#231815" stroke-width="0.7" />
<circle cx="1169.52" cy="281.8" r="6.4" stroke="#231815" stroke-width="2.2" fill="none" />
<line x1="1162.16" y1="286.05" x2="1176.89" y2="277.55" stroke="#231815" stroke-width="0.7" />
<line x1="1166.12" y1="275.91" x2="1172.92" y2="287.69" stroke="#231815" stroke-width="0.7" />
<circle cx="1176.39" cy="301.45" r="6.4" stroke="#231815" stroke-width="2.2" fill="none" />
<line x1="1167.98" y1="302.71" x2="1184.79" y2="300.2" stroke="#231815" stroke-width="0.7" />
<line x1="1175.38" y1="294.73" x2="1177.39" y2="308.18" stroke="#231815" stroke-width="0.7" />
<circle cx="1161.37" cy="373.98" r="6.4" stroke="#231815" stroke-width="2.2" fill="none" />
<line x1="1156.86" y1="366.77" x2="1165.87" y2="381.19" stroke="#231815" stroke-width="0.7" />
<line x1="1167.13" y1="370.38" x2="1155.6" y2="377.59" stroke="#231815" stroke-width="0.7" />
<circle cx="1142.09" cy="382.56" r="6.4" stroke="#231815" stroke-width="2.2" fill="none" />
<line x1="1139.75" y1="374.39" x2="1144.44" y2="390.73" stroke="#231815" stroke-width="0.7" />
<line x1="1148.63" y1="380.69" x2="1135.56" y2="384.44" stroke="#231815" stroke-width="0.7" />
<circle cx="1100.31" cy="382.56" r="6.4" stroke="#231815" stroke-width="2.2" fill="none" />
<line x1="1102.65" y1="374.39" x2="1097.96" y2="390.73" stroke="#231815" stroke-width="0.7" />
<line x1="1106.84" y1="384.44" x2="1093.77" y2="380.69" stroke="#231815" stroke-width="0.7" />
<circle cx="1081.03" cy="373.98" r="6.4" stroke="#231815" stroke-width="2.2" fill="none" />
<line x1="1085.54" y1="366.77" x2="1076.53" y2="381.19" stroke="#231815" stroke-width="0.7" />
<line x1="1086.8" y1="377.59" x2="1075.27" y2="370.38" stroke="#231815" stroke-width="0.7" />
<circle cx="1141.65" cy="361.62" r="6.4" stroke="#231815" stroke-width="2.2" fill="none" />
<line x1="1138.54" y1="353.71" x2="1144.77" y2="369.53" stroke="#231815" stroke-width="0.7" />
<line x1="1147.98" y1="359.13" x2="1135.32" y2="364.11" stroke="#231815" stroke-width="0.7" />
<circle cx="1121.2" cy="365.5" r="6.4" stroke="#231815" stroke-width="2.2" fill="none" />
<line x1="1121.2" y1="357" x2="1121.2" y2="374" stroke="#231815" stroke-width="0.7" />
<line x1="1128" y1="365.5" x2="1114.4" y2="365.5" stroke="#231815" stroke-width="0.7" />
<circle cx="1100.75" cy="361.62" r="6.4" stroke="#231815" stroke-width="2.2" fill="none" />
<line x1="1103.86" y1="353.71" x2="1097.63" y2="369.53" stroke="#231815" stroke-width="0.7" />
<line x1="1107.08" y1="364.11" x2="1094.42" y2="359.13" stroke="#231815" stroke-width="0.7" />
<circle cx="1151.64" cy="196.11" r="6.8" stroke="#231815" stroke-width="1.4" fill="none" />
<line x1="1149.05" y1="205.77" x2="1154.23" y2="186.45" stroke="#231815" stroke-width="0.7" />
<line x1="1143.91" y1="194.04" x2="1159.36" y2="198.18" stroke="#231815" stroke-width="0.7" />
<circle cx="1204.36" cy="226.54" r="6.8" stroke="#231815" stroke-width="1.4" fill="none" />
<line x1="1197.28" y1="233.62" x2="1211.43" y2="219.47" stroke="#231815" stroke-width="0.7" />
<line x1="1198.7" y1="220.89" x2="1210.01" y2="232.2" stroke="#231815" stroke-width="0.7" />
<circle cx="1234.79" cy="279.26" r="6.8" stroke="#231815" stroke-width="1.4" fill="none" />
<line x1="1225.13" y1="281.85" x2="1244.45" y2="276.67" stroke="#231815" stroke-width="0.7" />
<line x1="1232.72" y1="271.54" x2="1236.86" y2="286.99" stroke="#231815" stroke-width="0.7" />
<circle cx="1234.79" cy="340.14" r="6.8" stroke="#231815" stroke-width="1.4" fill="none" />
<line x1="1225.13" y1="337.55" x2="1244.45" y2="342.73" stroke="#231815" stroke-width="0.7" />
<line x1="1236.86" y1="332.41" x2="1232.72" y2="347.86" stroke="#231815" stroke-width="0.7" />
<circle cx="1204.36" cy="392.86" r="6.8" stroke="#231815" stroke-width="1.4" fill="none" />
<line x1="1197.28" y1="385.78" x2="1211.43" y2="399.93" stroke="#231815" stroke-width="0.7" />
<line x1="1210.01" y1="387.2" x2="1198.7" y2="398.51" stroke="#231815" stroke-width="0.7" />
<circle cx="1151.64" cy="423.29" r="6.8" stroke="#231815" stroke-width="1.4" fill="none" />
<line x1="1149.05" y1="413.63" x2="1154.23" y2="432.95" stroke="#231815" stroke-width="0.7" />
<line x1="1159.36" y1="421.22" x2="1143.91" y2="425.36" stroke="#231815" stroke-width="0.7" />
<circle cx="1090.76" cy="423.29" r="6.8" stroke="#231815" stroke-width="1.4" fill="none" />
<line x1="1093.35" y1="413.63" x2="1088.17" y2="432.95" stroke="#231815" stroke-width="0.7" />
<line x1="1098.49" y1="425.36" x2="1083.04" y2="421.22" stroke="#231815" stroke-width="0.7" />
<circle cx="1038.04" cy="392.86" r="6.8" stroke="#231815" stroke-width="1.4" fill="none" />
<line x1="1045.12" y1="385.78" x2="1030.97" y2="399.93" stroke="#231815" stroke-width="0.7" />
<line x1="1043.7" y1="398.51" x2="1032.39" y2="387.2" stroke="#231815" stroke-width="0.7" />
<circle cx="1007.61" cy="340.14" r="6.8" stroke="#231815" stroke-width="1.4" fill="none" />
<line x1="1017.27" y1="337.55" x2="997.95" y2="342.73" stroke="#231815" stroke-width="0.7" />
<line x1="1009.68" y1="347.86" x2="1005.54" y2="332.41" stroke="#231815" stroke-width="0.7" />
<circle cx="1007.61" cy="279.26" r="6.8" stroke="#231815" stroke-width="1.4" fill="none" />
<line x1="1017.27" y1="281.85" x2="997.95" y2="276.67" stroke="#231815" stroke-width="0.7" />
<line x1="1005.54" y1="286.99" x2="1009.68" y2="271.54" stroke="#231815" stroke-width="0.7" />
<circle cx="1038.04" cy="226.54" r="6.8" stroke="#231815" stroke-width="1.4" fill="none" />
<line x1="1045.12" y1="233.62" x2="1030.97" y2="219.47" stroke="#231815" stroke-width="0.7" />
<line x1="1032.39" y1="232.2" x2="1043.7" y2="220.89" stroke="#231815" stroke-width="0.7" />
<circle cx="1090.76" cy="196.11" r="6.8" stroke="#231815" stroke-width="1.4" fill="none" />
<line x1="1093.35" y1="205.77" x2="1088.17" y2="186.45" stroke="#231815" stroke-width="0.7" />
<line x1="1083.04" y1="198.18" x2="1098.49" y2="194.04" stroke="#231815" stroke-width="0.7" />
<circle cx="1062.4" cy="207.86" r="7.4" stroke="#231815" stroke-width="0" fill="#231815" />
<path d="M1062.4,207.86 L1067.46,209.07 A5.2,5.2 0 0 1 1063.61,212.91 Z" fill="#fff" opacity="0.85"/>
<path d="M1062.4,207.86 L1057.34,206.64 A5.2,5.2 0 0 1 1061.19,202.8 Z" fill="#fff" opacity="0.85"/>
<line x1="1058.9" y1="201.79" x2="1056.4" y2="197.46" stroke="#231815" stroke-width="0.8" />
<line x1="1065.9" y1="213.92" x2="1068.9" y2="219.11" stroke="#231815" stroke-width="0.8" />
<circle cx="1180" cy="411.54" r="7.4" stroke="#231815" stroke-width="0" fill="#231815" />
<path d="M1180,411.54 L1185.06,412.76 A5.2,5.2 0 0 1 1181.21,416.6 Z" fill="#fff" opacity="0.85"/>
<path d="M1180,411.54 L1174.94,410.33 A5.2,5.2 0 0 1 1178.79,406.49 Z" fill="#fff" opacity="0.85"/>
<line x1="1183.5" y1="417.61" x2="1186" y2="421.94" stroke="#231815" stroke-width="0.8" />
<line x1="1176.5" y1="405.48" x2="1173.5" y2="400.29" stroke="#231815" stroke-width="0.8" />
<path d="M1034.95,160.31 A172.5,172.5 0 0 1 1121.2,137.2" stroke="#231815" stroke-width="1.1" fill="none" />
<path d="M1081.13,160.17 A154.8,154.8 0 0 1 1161.27,160.17" stroke="#231815" stroke-width="1.1" fill="none" />
<polygon points="1034.95,160.31 1043.55,153.61 1045.05,156.21" fill="#231815"/>
<polygon points="1121.2,137.2 1110.4,138.7 1110.4,135.7" fill="#231815"/>
<polygon points="1081.13,160.17 1091.18,155.93 1091.96,158.83" fill="#231815"/>
<polygon points="1121.2,154.9 1110.4,156.4 1110.4,153.4" fill="#231815"/>
<polygon points="1121.2,154.9 1132,153.4 1132,156.4" fill="#231815"/>
<polygon points="1161.27,160.17 1150.44,158.83 1151.22,155.93" fill="#231815"/>
<line x1="1059.2" y1="202.31" x2="1032.2" y2="155.55" stroke="#231815" stroke-width="0.9" />
<line x1="1089.11" y1="189.93" x2="1079.79" y2="155.15" stroke="#231815" stroke-width="0.9" />
<line x1="1153.29" y1="189.93" x2="1162.61" y2="155.15" stroke="#231815" stroke-width="0.9" />
<line x1="1121.2" y1="114.1" x2="1121.2" y2="128.3" stroke="#231815" stroke-width="1.9" />
<line x1="1097.6" y1="114.1" x2="1121.2" y2="114.1" stroke="#231815" stroke-width="0.9" />
<polygon points="1097.6,114.1 1110.1,112.7 1110.1,115.5" fill="#231815"/>
<line x1="1121.2" y1="456.5" x2="1121.2" y2="470.8" stroke="#231815" stroke-width="1.9" />
<line x1="1097.6" y1="470.8" x2="1121.2" y2="470.8" stroke="#231815" stroke-width="0.9" />
<polygon points="1097.6,470.8 1110.1,469.4 1110.1,472.2" fill="#231815"/>
<path d="M869,181.7 H991.6 L1055,205" stroke="#231815" stroke-width="0.9" fill="none" />
<line x1="1070.5" y1="210.8" x2="1086" y2="216.2" stroke="#231815" stroke-width="0.9" />
<polygon points="1069.8,210.6 1078.73,212.3 1077.89,214.76" fill="#231815"/>
<path d="M1320,155.5 H1227 L1158,192" stroke="#231815" stroke-width="0.9" fill="none" />
<line x1="1129.8" y1="207.8" x2="1145" y2="200.2" stroke="#231815" stroke-width="0.9" />
<polygon points="1145.6,199.9 1138.13,205.08 1136.97,202.75" fill="#231815"/>
<path d="M967.5,207.8 L995.8,183.9 L999.2,200.4 L983.3,194.3" stroke="#231815" stroke-width="0.9" fill="none" />
<path d="M1296.5,214.2 H1256.5 L1024.28,376.31" stroke="#231815" stroke-width="0.9" fill="none" />
<polygon points="1218.12,243.09 1211.44,249.26 1209.96,247.12" fill="#231815"/>
<polygon points="1024.28,376.31 1030.96,370.14 1032.44,372.28" fill="#231815"/>
<text x="868.8" y="177.5" font-size="17.8" fill="#231815" font-weight="bold" text-anchor="start" font-family="'Liberation Sans', sans-serif" textLength="56.6" lengthAdjust="spacingAndGlyphs">2-Ø10H8(</text>
<text x="926.6" y="167.1" font-size="12.3" fill="#231815" font-weight="bold" text-anchor="start" font-family="'Liberation Sans', sans-serif" textLength="26.4" lengthAdjust="spacingAndGlyphs" stroke="#231815" stroke-width="0.5">+0.022</text>
<text x="931" y="177.9" font-size="12.2" fill="#231815" font-weight="bold" text-anchor="start" font-family="'Liberation Sans', sans-serif" textLength="4.6" lengthAdjust="spacingAndGlyphs" stroke="#231815" stroke-width="0.5">0</text>
<text x="955.3" y="177.5" font-size="17.8" fill="#231815" font-weight="bold" text-anchor="start" font-family="'Liberation Sans', sans-serif" textLength="4.2" lengthAdjust="spacingAndGlyphs">)</text>
<line x1="960.6" y1="166.2" x2="967.4" y2="166.2" stroke="#231815" stroke-width="1.4" />
<line x1="964" y1="165.5" x2="964" y2="172.5" stroke="#231815" stroke-width="1.5" />
<polygon points="960.9,168.5 967.1,168.5 964,177.5" fill="#231815"/>
<text x="970.4" y="177.5" font-size="17.8" fill="#231815" font-weight="bold" text-anchor="start" font-family="'Liberation Sans', sans-serif" textLength="12.8" lengthAdjust="spacingAndGlyphs">12</text>
<text x="1233.8" y="153.1" font-size="17.3" fill="#231815" font-weight="bold" text-anchor="start" font-family="'Liberation Sans', sans-serif" textLength="62.2" lengthAdjust="spacingAndGlyphs">12-M10-6H</text>
<line x1="1297.2" y1="142.6" x2="1305.2" y2="142.6" stroke="#231815" stroke-width="1.4" />
<line x1="1301.2" y1="141.9" x2="1301.2" y2="148.4" stroke="#231815" stroke-width="1.5" />
<polygon points="1297.5,144.9 1304.9,144.9 1301.2,153.4" fill="#231815"/>
<text x="1306.7" y="153.1" font-size="17.3" fill="#231815" font-weight="bold" text-anchor="start" font-family="'Liberation Sans', sans-serif" textLength="13.2" lengthAdjust="spacingAndGlyphs">20</text>
<text x="1264.5" y="212.6" font-size="15" fill="#231815" font-weight="bold" text-anchor="start" font-family="'Liberation Sans', sans-serif" textLength="30.5" lengthAdjust="spacingAndGlyphs">Ø160</text>
<text x="1115.8" y="109.4" font-size="13.2" fill="#231815" font-weight="bold" text-anchor="start" font-family="'Liberation Sans', sans-serif" textLength="6.8" lengthAdjust="spacingAndGlyphs">A</text>
<text x="1117.6" y="487.2" font-size="12.6" fill="#231815" font-weight="bold" text-anchor="start" font-family="'Liberation Sans', sans-serif" textLength="6.6" lengthAdjust="spacingAndGlyphs">A</text>
<text x="1066.6" y="143.6" font-size="17.6" fill="#231815" font-weight="bold" text-anchor="start" font-family="'Liberation Sans', sans-serif" textLength="21.5" lengthAdjust="spacingAndGlyphs" transform="rotate(-22 1066.6 143.6)" font-style="italic">30°</text>
<text x="1091.6" y="154.8" font-size="16.6" fill="#231815" font-weight="bold" text-anchor="start" font-family="'Liberation Sans', sans-serif" textLength="18.6" lengthAdjust="spacingAndGlyphs" transform="rotate(-12 1091.6 154.8)" font-style="italic">15°</text>
<text x="1133.2" y="152.6" font-size="16.6" fill="#231815" font-weight="bold" text-anchor="start" font-family="'Liberation Sans', sans-serif" textLength="18.6" lengthAdjust="spacingAndGlyphs" transform="rotate(5 1133.2 152.6)" font-style="italic">15°</text>
<text x="979" y="206.3" font-size="15" fill="#231815" font-weight="bold" text-anchor="start" font-family="'Liberation Sans', sans-serif" textLength="16.5" lengthAdjust="spacingAndGlyphs" transform="rotate(24 979 206.3)" font-style="italic">3.2</text>
</g>
<g id="section" fill="none" filter="url(#soft)">
<defs><pattern id="ht" width="3.2" height="3.2" patternUnits="userSpaceOnUse" patternTransform="rotate(-45)"><line x1="0" y1="0" x2="3.2" y2="0" stroke="#231815" stroke-width="0.9"/></pattern>
<clipPath id="hc"><path d="M1428.9,236 C1424,240 1421,247 1416,251 C1410,257 1409.3,270 1409.2,290 C1409.3,312 1410.5,325 1417,333 C1421,339 1425,345 1428.9,349.3 L1428.9,322.9 L1416.8,322.9 L1416.8,257.6 L1428.9,257.6 Z"/></clipPath></defs>
<rect x="1405" y="232" width="26" height="120" fill="url(#ht)" clip-path="url(#hc)"/>
<path d="M1428.9,236 C1424,240 1421,247 1416,251 C1410,257 1409.3,270 1409.2,290 C1409.3,312 1410.5,325 1417,333 C1421,339 1425,345 1428.9,349.3" stroke="#231815" stroke-width="0.7" fill="none" />
<path d="M1429,155.8 V424.3 Q1429,425.6 1427.6,425.6 H1402.9 L1401.2,424 L1396.2,409.6 Q1395.8,408.4 1394.4,408.3 L1389,407.9 Q1387.1,407.7 1387.1,405.8 V174.8 Q1387.1,172.9 1389,172.7 L1394.4,172.3 Q1395.8,172.2 1396.2,171 L1401.2,156.6 L1402.9,155 H1427.6 Q1429,155 1429,156.4" stroke="#231815" stroke-width="1.5" fill="none" />
<line x1="1395.8" y1="172.5" x2="1395.8" y2="408.2" stroke="#231815" stroke-width="0.8" />
<line x1="1400.6" y1="157" x2="1400.6" y2="424" stroke="#231815" stroke-width="0.8" />
<line x1="1402.8" y1="155" x2="1402.8" y2="425.6" stroke="#231815" stroke-width="1.2" />
<path d="M1428.9,257.6 H1416.8 V322.9 H1428.9" stroke="#231815" stroke-width="1.5" fill="none" />
<line x1="1427.7" y1="257.6" x2="1427.7" y2="322.9" stroke="#231815" stroke-width="2.6" />
<line x1="1382.7" y1="290.4" x2="1439" y2="290.4" stroke="#231815" stroke-width="0.8" />
<line x1="1399.2" y1="278.5" x2="1441" y2="278.5" stroke="#231815" stroke-width="0.8" />
<line x1="1408" y1="275.5" x2="1408" y2="281.5" stroke="#231815" stroke-width="0.8" />
<line x1="1429" y1="155" x2="1522" y2="155" stroke="#231815" stroke-width="0.8" />
<line x1="1429" y1="257.6" x2="1470" y2="257.6" stroke="#231815" stroke-width="0.8" />
<line x1="1488" y1="257.6" x2="1500.5" y2="257.6" stroke="#231815" stroke-width="0.8" />
<line x1="1429" y1="322.9" x2="1470" y2="322.9" stroke="#231815" stroke-width="0.8" />
<line x1="1490" y1="322.9" x2="1500.5" y2="322.9" stroke="#231815" stroke-width="0.8" />
<line x1="1494.5" y1="257.6" x2="1494.5" y2="322.9" stroke="#231815" stroke-width="0.8" />
<polygon points="1494.5,257.6 1495.7,268.6 1493.3,268.6" fill="#231815"/>
<polygon points="1494.5,322.9 1493.3,311.9 1495.7,311.9" fill="#231815"/>
<line x1="1517" y1="155" x2="1517" y2="299.5" stroke="#231815" stroke-width="0.9" />
<polygon points="1517,155 1518.3,166 1515.7,166" fill="#231815"/>
<path d="M1428.9,322.9 L1447.6,344.9 H1471.8" stroke="#231815" stroke-width="0.8" fill="none" />
<path d="M1430,290.4 L1451,258 L1458.6,271.9 H1442.1" stroke="#231815" stroke-width="0.8" fill="none" />
<text x="1427.6" y="274.4" font-size="11.5" fill="#231815" font-weight="bold" text-anchor="start" font-family="'Liberation Sans', sans-serif" textLength="6.6" lengthAdjust="spacingAndGlyphs" transform="rotate(-90 1427.6 274.4)">8</text>
<text x="1443.6" y="286" font-size="14.6" fill="#231815" font-weight="bold" text-anchor="start" font-family="'Liberation Sans', sans-serif" textLength="15.5" lengthAdjust="spacingAndGlyphs">2.4</text>
<text x="1447.6" y="342.7" font-size="16.4" fill="#231815" font-weight="bold" text-anchor="start" font-family="'Liberation Sans', sans-serif" textLength="24.2" lengthAdjust="spacingAndGlyphs">C1.5</text>
<text x="1489.5" y="329.9" font-size="17.7" fill="#231815" font-weight="bold" text-anchor="start" font-family="'Liberation Sans', sans-serif" textLength="38.9" lengthAdjust="spacingAndGlyphs" transform="rotate(-90 1489.5 329.9)">Ø45H7</text>
<text x="1489.5" y="290.6" font-size="17.7" fill="#231815" font-weight="normal" text-anchor="start" font-family="'Liberation Sans', sans-serif" textLength="4.3" lengthAdjust="spacingAndGlyphs" transform="rotate(-90 1489.5 290.6)">(</text>
<text x="1478.9" y="286.2" font-size="12" fill="#231815" font-weight="bold" text-anchor="start" font-family="'Liberation Sans', sans-serif" textLength="26.3" lengthAdjust="spacingAndGlyphs" transform="rotate(-90 1478.9 286.2)" stroke="#231815" stroke-width="0.5">+0.025</text>
<text x="1489.5" y="281.8" font-size="11.8" fill="#231815" font-weight="bold" text-anchor="start" font-family="'Liberation Sans', sans-serif" textLength="4.3" lengthAdjust="spacingAndGlyphs" transform="rotate(-90 1489.5 281.8)" stroke="#231815" stroke-width="0.5">0</text>
<text x="1489.5" y="259.4" font-size="17.7" fill="#231815" font-weight="normal" text-anchor="start" font-family="'Liberation Sans', sans-serif" textLength="4.3" lengthAdjust="spacingAndGlyphs" transform="rotate(-90 1489.5 259.4)">)</text>
<text x="1515" y="299.6" font-size="17.2" fill="#231815" font-weight="bold" text-anchor="start" font-family="'Liberation Sans', sans-serif" textLength="31.2" lengthAdjust="spacingAndGlyphs" transform="rotate(-90 1515 299.6)">Ø185</text>
<text x="1427.8" y="498.2" font-size="14.2" fill="#231815" font-weight="bold" text-anchor="start" font-family="'Liberation Sans', sans-serif" textLength="17.2" lengthAdjust="spacingAndGlyphs">A-A</text>
</g>
<text x="840" y="193.3" font-size="13.7" fill="#4f4c4c" font-weight="normal" text-anchor="start" font-family="'Liberation Sans', sans-serif" textLength="128" lengthAdjust="spacing">Evenly distributed</text>
<text x="1230.2" y="166.3" font-size="13.7" fill="#4f4c4c" font-weight="normal" text-anchor="start" font-family="'Liberation Sans', sans-serif" textLength="128" lengthAdjust="spacing">Evenly distributed</text>
<text y="563.8" font-size="19.4" fill="#747474" font-family="'Liberation Sans', sans-serif"><tspan x="470.8" textLength="108.4" lengthAdjust="spacingAndGlyphs">Installation</tspan> <tspan x="586.6" textLength="104.3" lengthAdjust="spacingAndGlyphs">Dimension</tspan> <tspan x="697" textLength="17.4" lengthAdjust="spacingAndGlyphs">of</tspan> <tspan x="721.4" textLength="43.6" lengthAdjust="spacingAndGlyphs">Base</tspan></text>
<text y="563.4" font-size="19.4" fill="#747474" font-family="'Liberation Sans', sans-serif"><tspan x="1166.2" textLength="64" lengthAdjust="spacingAndGlyphs">Flange</tspan> <tspan x="1237" textLength="114" lengthAdjust="spacingAndGlyphs">Dimensions</tspan></text>
</svg>
</body></html>
